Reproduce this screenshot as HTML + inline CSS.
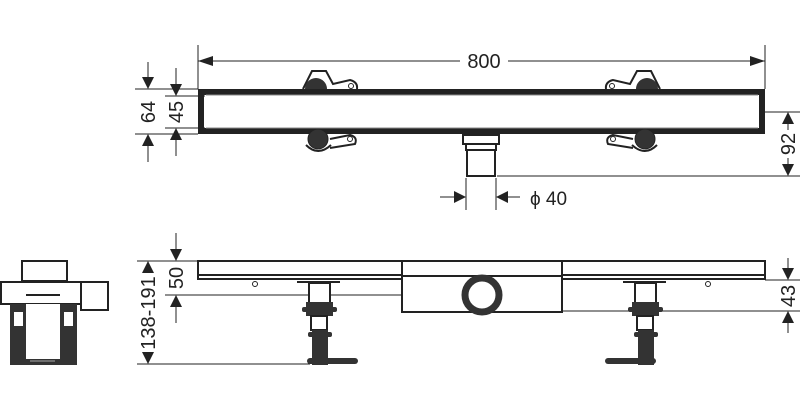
<!DOCTYPE html>
<html><head><style>html,body{margin:0;padding:0;background:#fff}svg{display:block}text{font-family:"Liberation Sans",sans-serif;fill:#222}</style></head><body>
<svg width="800" height="415" viewBox="0 0 800 415" xmlns="http://www.w3.org/2000/svg">
<defs>
<g id="legL">
<path d="M297 282 L340 282" stroke="#222" stroke-width="2"/>
<rect x="309" y="283" width="21" height="20" fill="#fff" stroke="#222" stroke-width="2"/>
<rect x="306" y="302" width="27" height="14" fill="#333"/>
<rect x="302" y="307" width="35" height="5" rx="2" fill="#333"/>
<rect x="311" y="316" width="16" height="14" fill="#fff" stroke="#222" stroke-width="2"/>
<rect x="312" y="330" width="16" height="35" fill="#333"/>
<rect x="308" y="332" width="24" height="5" rx="2" fill="#333"/>
</g>
</defs>
<g stroke="#222" stroke-width="1" fill="none">
<line x1="198" y1="45" x2="198" y2="89"/><line x1="765" y1="45" x2="765" y2="89"/>
<line x1="198" y1="61" x2="460" y2="61"/><line x1="508" y1="61" x2="765" y2="61"/>
<line x1="135" y1="89" x2="198" y2="89"/><line x1="135" y1="134" x2="198" y2="134"/>
<line x1="165" y1="96" x2="205" y2="96"/><line x1="165" y1="128" x2="205" y2="128"/>
<line x1="148" y1="62" x2="148" y2="80"/><line x1="148" y1="143" x2="148" y2="162"/>
<line x1="176" y1="68" x2="176" y2="87"/><line x1="176" y1="137" x2="176" y2="156"/>
<line x1="765" y1="112" x2="800" y2="112"/><line x1="497" y1="176" x2="800" y2="176"/>
<line x1="788" y1="121" x2="788" y2="130"/><line x1="788" y1="158" x2="788" y2="167"/>
<line x1="466" y1="178" x2="466" y2="210"/><line x1="496" y1="178" x2="496" y2="210"/>
<line x1="440" y1="197" x2="456" y2="197"/><line x1="506" y1="197" x2="520" y2="197"/>
<line x1="137" y1="261" x2="198" y2="261"/><line x1="137" y1="364" x2="310" y2="364"/>
<line x1="165" y1="295" x2="462" y2="295"/>
<line x1="176" y1="233" x2="176" y2="252"/><line x1="176" y1="304" x2="176" y2="323"/>
<line x1="765" y1="280" x2="800" y2="280"/><line x1="560" y1="311" x2="800" y2="311"/>
<line x1="788" y1="258" x2="788" y2="270"/><line x1="788" y1="321" x2="788" y2="333"/>
</g>
<g fill="#222">
<polygon points="198,61 213,56 213,66"/><polygon points="765,61 750,56 750,66"/>
<polygon points="148,89 142,77 154,77"/><polygon points="148,134 142,146 154,146"/>
<polygon points="176,96 170,84 182,84"/><polygon points="176,128 170,140 182,140"/>
<polygon points="788,112 782,124 794,124"/><polygon points="788,176 782,164 794,164"/>
<polygon points="466,197 454,191 454,203"/><polygon points="496,197 508,191 508,203"/>
<polygon points="176,261 170,249 182,249"/><polygon points="176,295 170,307 182,307"/>
<polygon points="148,261 142,273 154,273"/><polygon points="148,364 142,352 154,352"/>
<polygon points="788,280 782,268 794,268"/><polygon points="788,311 782,323 794,323"/>
</g>
<text x="484" y="68" font-size="20" text-anchor="middle">800</text>
<text transform="translate(155,112) rotate(-90)" font-size="20" text-anchor="middle">64</text>
<text transform="translate(183,112) rotate(-90)" font-size="20" text-anchor="middle">45</text>
<text transform="translate(795,144) rotate(-90)" font-size="20" text-anchor="middle">92</text>
<text x="530" y="205" font-size="19">ϕ  40</text>
<text transform="translate(183,278) rotate(-90)" font-size="20" text-anchor="middle">50</text>
<text transform="translate(155,313) rotate(-90)" font-size="20" text-anchor="middle">138-191</text>
<text transform="translate(795,296) rotate(-90)" font-size="20" text-anchor="middle">43</text>
<rect x="201" y="92" width="561" height="39" fill="none" stroke="#222" stroke-width="6"/>
<line x1="206" y1="95" x2="758" y2="95" stroke="#888" stroke-width="1"/>
<line x1="206" y1="128" x2="758" y2="128" stroke="#888" stroke-width="1"/>
<g id="brk">
<path d="M303 89 L312 71 L326 71 L333 84 L350 80 Q358 82 357 89" fill="#fff" stroke="#222" stroke-width="2"/>
<path d="M305 89 A11 11 0 0 1 327 89 Z" fill="#333"/>
<circle cx="351" cy="86" r="2.5" fill="#fff" stroke="#222"/>
<path d="M330 139 L350 135 Q358 137 355 144 L330 148" fill="#fff" stroke="#222" stroke-width="2"/>
<circle cx="318" cy="139" r="10" fill="#333" stroke="#222"/>
<path d="M306 145 Q318 157 331 145" fill="none" stroke="#222" stroke-width="2"/>
<circle cx="350" cy="139" r="2.5" fill="#fff" stroke="#222"/>
</g>
<use href="#brk" transform="translate(963,0) scale(-1,1)"/>
<rect x="463" y="135" width="36" height="9" fill="#fff" stroke="#222" stroke-width="2"/>
<rect x="466" y="144" width="30" height="6" fill="#fff" stroke="#222" stroke-width="2"/>
<rect x="467" y="150" width="28" height="26" fill="#fff" stroke="#222" stroke-width="2"/>
<path d="M198 261 L765 261 L765 279 L198 279 Z" fill="#fff" stroke="#222" stroke-width="2"/>
<line x1="198" y1="275" x2="765" y2="275" stroke="#222" stroke-width="2"/>
<rect x="402" y="261" width="160" height="51" fill="#fff" stroke="#222" stroke-width="2"/>
<line x1="402" y1="276" x2="562" y2="276" stroke="#222" stroke-width="2"/>
<circle cx="482" cy="295" r="17" fill="none" stroke="#333" stroke-width="7"/>
<circle cx="255" cy="284" r="2.5" fill="none" stroke="#222"/>
<circle cx="708" cy="284" r="2.5" fill="none" stroke="#222"/>
<use href="#legL"/>
<rect x="307" y="358" width="51" height="6" rx="3" fill="#333"/>
<use href="#legL" transform="translate(326,0)"/>
<rect x="605" y="358" width="51" height="6" rx="3" fill="#333"/>
<rect x="22" y="261" width="45" height="20" fill="#fff" stroke="#222" stroke-width="2"/>
<rect x="1" y="282" width="80" height="22" fill="#fff" stroke="#222" stroke-width="2"/>
<rect x="81" y="282" width="27" height="28" fill="#fff" stroke="#222" stroke-width="2"/>
<line x1="26" y1="295" x2="60" y2="295" stroke="#222" stroke-width="2"/>
<rect x="10" y="304" width="16" height="61" fill="#333"/>
<rect x="14" y="312" width="9" height="14" fill="#fff"/>
<rect x="60" y="304" width="17" height="61" fill="#333"/>
<rect x="64" y="312" width="9" height="14" fill="#fff"/>
<rect x="26" y="304" width="34" height="55" fill="#fff"/>
<rect x="10" y="359" width="67" height="6" fill="#333"/>
<line x1="30" y1="361" x2="55" y2="361" stroke="#aaa"/>
</svg>
</body></html>
